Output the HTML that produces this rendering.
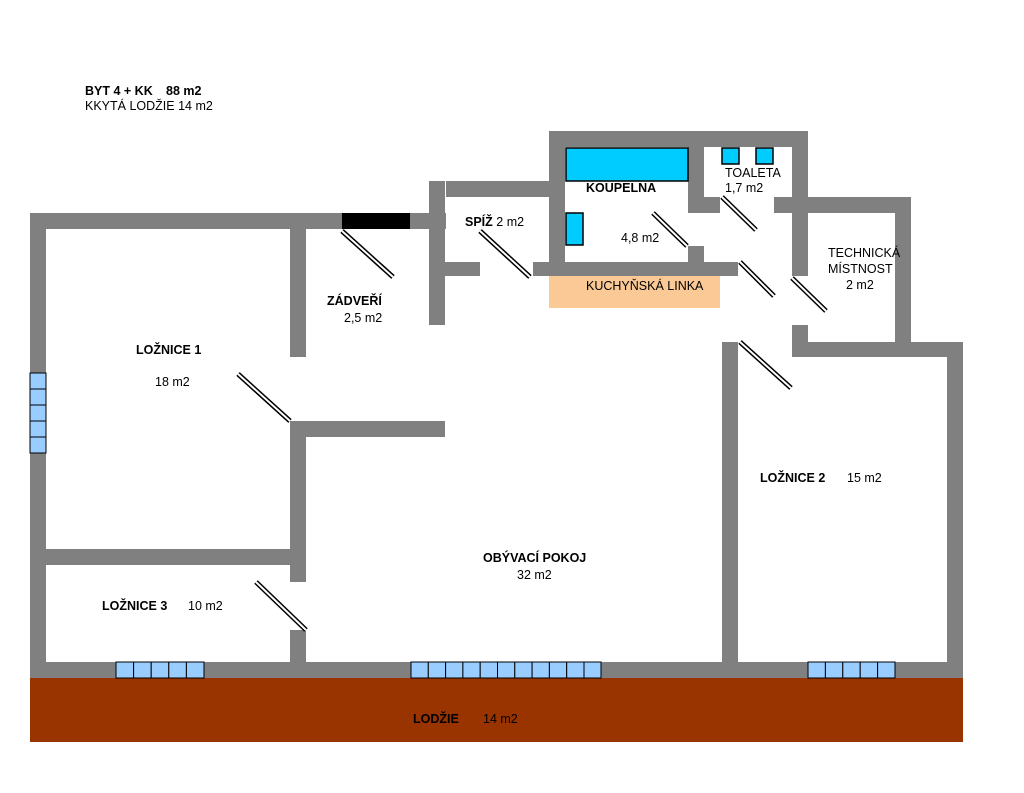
<!DOCTYPE html>
<html><head><meta charset="utf-8"><style>
body{margin:0;background:#fff;}
svg text{font-family:"Liberation Sans",sans-serif;font-size:12.5px;fill:#000;}
.b{font-weight:bold;}
</style></head><body>
<svg width="1024" height="788" xmlns="http://www.w3.org/2000/svg">
<rect width="1024" height="788" fill="#fff"/>
<rect x="30" y="678" width="933" height="64" fill="#993300"/>
<g fill="#808080">
<rect x="30" y="213" width="416" height="16"/>
<rect x="30" y="213" width="16" height="465"/>
<rect x="30" y="662" width="933" height="16"/>
<rect x="947" y="342" width="16" height="336"/>
<rect x="792" y="342" width="171" height="15"/>
<rect x="895" y="197" width="16" height="160"/>
<rect x="774" y="197" width="137" height="16"/>
<rect x="792" y="197" width="16" height="79"/>
<rect x="792" y="325" width="16" height="32"/>
<rect x="549" y="131" width="259" height="16"/>
<rect x="792" y="131" width="16" height="82"/>
<rect x="688" y="131" width="16" height="82"/>
<rect x="688" y="197" width="32" height="16"/>
<rect x="549" y="131" width="16" height="145"/>
<rect x="533" y="262" width="205" height="14"/>
<rect x="688" y="246" width="16" height="16"/>
<rect x="446" y="181" width="103" height="16"/>
<rect x="429" y="181" width="16" height="144"/>
<rect x="429" y="262" width="51" height="14"/>
<rect x="290" y="229" width="16" height="128"/>
<rect x="290" y="421" width="16" height="161"/>
<rect x="290" y="630" width="16" height="32"/>
<rect x="290" y="421" width="155" height="16"/>
<rect x="46" y="549" width="260" height="16"/>
<rect x="722" y="342" width="16" height="320"/>
</g>
<rect x="342" y="213" width="68" height="16" fill="#000"/>
<rect x="549" y="276" width="171" height="32" fill="#fbc996"/>
<g fill="#00ccff" stroke="#000" stroke-width="1.5">
<rect x="566" y="148" width="122" height="33"/>
<rect x="566" y="213" width="17" height="32"/>
<rect x="722" y="148" width="17" height="16"/>
<rect x="756" y="148" width="17" height="16"/>
</g>
<g fill="#99ccff" stroke="#000" stroke-width="1">
<rect x="30" y="373" width="16" height="16"/><rect x="30" y="389" width="16" height="16"/><rect x="30" y="405" width="16" height="16"/><rect x="30" y="421" width="16" height="16"/><rect x="30" y="437" width="16" height="16"/>
<rect x="116" y="662" width="17.6" height="16"/><rect x="133.6" y="662" width="17.6" height="16"/><rect x="151.2" y="662" width="17.6" height="16"/><rect x="168.8" y="662" width="17.6" height="16"/><rect x="186.4" y="662" width="17.6" height="16"/>
<rect x="411" y="662" width="17.3" height="16"/><rect x="428.3" y="662" width="17.3" height="16"/><rect x="445.6" y="662" width="17.3" height="16"/><rect x="462.9" y="662" width="17.3" height="16"/><rect x="480.2" y="662" width="17.3" height="16"/><rect x="497.5" y="662" width="17.3" height="16"/><rect x="514.8" y="662" width="17.3" height="16"/><rect x="532.1" y="662" width="17.3" height="16"/><rect x="549.4" y="662" width="17.3" height="16"/><rect x="566.7" y="662" width="17.3" height="16"/><rect x="584" y="662" width="17" height="16"/>
<rect x="808" y="662" width="17.4" height="16"/><rect x="825.4" y="662" width="17.4" height="16"/><rect x="842.8" y="662" width="17.4" height="16"/><rect x="860.2" y="662" width="17.4" height="16"/><rect x="877.6" y="662" width="17.4" height="16"/>
</g>
<g stroke-linecap="butt">
<g stroke="#000" stroke-width="5">
<line x1="342" y1="231" x2="393" y2="277"/><line x1="238" y1="374" x2="290" y2="421"/><line x1="480" y1="231" x2="530" y2="277"/><line x1="653" y1="213" x2="687" y2="246"/><line x1="722" y1="197" x2="756" y2="230"/><line x1="740" y1="262" x2="774" y2="296"/><line x1="792" y1="278" x2="826" y2="311"/><line x1="740" y1="342" x2="791" y2="388"/><line x1="256" y1="582" x2="306" y2="630"/>
</g>
<g stroke="#fff" stroke-width="2">
<line x1="342" y1="231" x2="393" y2="277"/><line x1="238" y1="374" x2="290" y2="421"/><line x1="480" y1="231" x2="530" y2="277"/><line x1="653" y1="213" x2="687" y2="246"/><line x1="722" y1="197" x2="756" y2="230"/><line x1="740" y1="262" x2="774" y2="296"/><line x1="792" y1="278" x2="826" y2="311"/><line x1="740" y1="342" x2="791" y2="388"/><line x1="256" y1="582" x2="306" y2="630"/>
</g>
</g>
<text x="85" y="95" class="b">BYT 4 + KK</text>
<text x="166" y="95" class="b">88 m2</text>
<text x="85" y="110">KKYTÁ LODŽIE 14 m2</text>
<text x="586" y="192" class="b">KOUPELNA</text>
<text x="725" y="177">TOALETA</text>
<text x="725" y="192">1,7 m2</text>
<text x="465" y="226"><tspan class="b">SPÍŽ</tspan> 2 m2</text>
<text x="621" y="242">4,8 m2</text>
<text x="586" y="290">KUCHYŇSKÁ LINKA</text>
<text x="828" y="257">TECHNICKÁ</text>
<text x="828" y="273">MÍSTNOST</text>
<text x="846" y="289">2 m2</text>
<text x="327" y="305" class="b">ZÁDVEŘÍ</text>
<text x="344" y="322">2,5 m2</text>
<text x="136" y="354" class="b">LOŽNICE 1</text>
<text x="155" y="386">18 m2</text>
<text x="760" y="482" class="b">LOŽNICE 2</text>
<text x="847" y="482">15 m2</text>
<text x="483" y="562" class="b">OBÝVACÍ POKOJ</text>
<text x="517" y="579">32 m2</text>
<text x="102" y="610" class="b">LOŽNICE 3</text>
<text x="188" y="610">10 m2</text>
<text x="413" y="723" class="b">LODŽIE</text>
<text x="483" y="723">14 m2</text>
</svg>
</body></html>
